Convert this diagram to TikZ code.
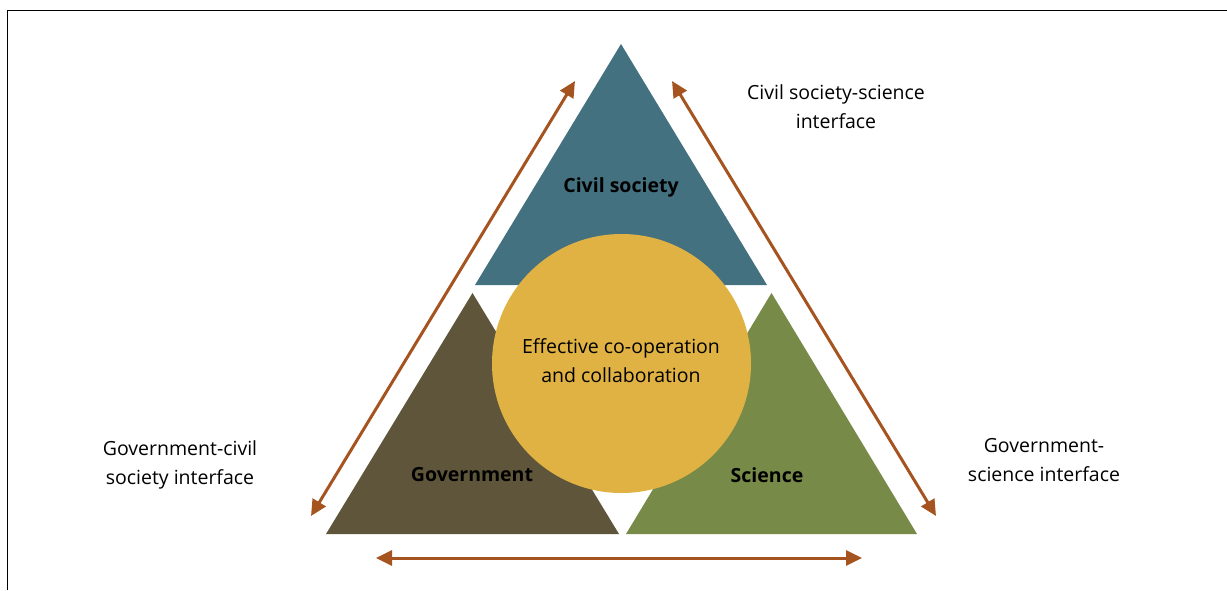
\documentclass[tikz,border=0pt]{standalone}
\usepackage{fontspec}
\setmainfont{Open Sans}
\usetikzlibrary{arrows.meta}
\definecolor{teal1}{HTML}{44717F}
\definecolor{govbrown}{HTML}{5F553A}
\definecolor{scigreen}{HTML}{778A48}
\definecolor{gold1}{HTML}{E0B243}
\definecolor{arrowc}{HTML}{A5541F}
\tikzset{
  lbl/.style={align=center, font=\fontsize{19.5}{29}\selectfont, text=black, inner sep=0pt},
  blbl/.style={font=\fontsize{19.5}{22}\selectfont\bfseries, text=black, inner sep=0pt},
  iface/.style={draw=arrowc, line width=3pt, {Triangle[length=16pt,width=15pt]}-{Triangle[length=16pt,width=15pt]}}
}
\begin{document}
\begin{tikzpicture}[x=1pt,y=-1pt]
\useasboundingbox (0,0) rectangle (1227,590);
% frame
\draw[line width=1.7pt] (7.5,590) -- (7.5,10.5) -- (1227,10.5);
% triangles
\fill[teal1] (621,44) -- (767,285) -- (475,285) -- cycle;
\fill[govbrown] (472.5,293) -- (619,534) -- (326,534) -- cycle;
\fill[scigreen] (771.5,293) -- (917,534) -- (626,534) -- cycle;
% circle
\fill[gold1] (621.5,363.5) circle (129.5);
% texts
\node[blbl] (cs) at (621,187) {Civil society};
\node[blbl] (gov) at (472,475) {Government};
\node[blbl] (sci) at (767,475) {Science};
\node[lbl] (eff) at (621,360.5) {Effective co-operation\\and collaboration};
\node[lbl] (csi) at (836,106.5) {Civil society-science\\interface};
\node[lbl] (gci) at (180,464.5) {Government-civil\\society interface};
\node[lbl] (gsi) at (1044,460.5) {Government-\\science interface};
% arrow ends
\coordinate (la) at (311,516);
\coordinate (lb) at (575,81);
\coordinate (ra) at (672,81);
\coordinate (rb) at (936,516);
\coordinate (ba) at (376,558);
\coordinate (bb) at (862,558);
\draw[iface] (la) -- (lb);
\draw[iface] (ra) -- (rb);
\draw[iface] (ba) -- (bb);
\end{tikzpicture}
\end{document}
